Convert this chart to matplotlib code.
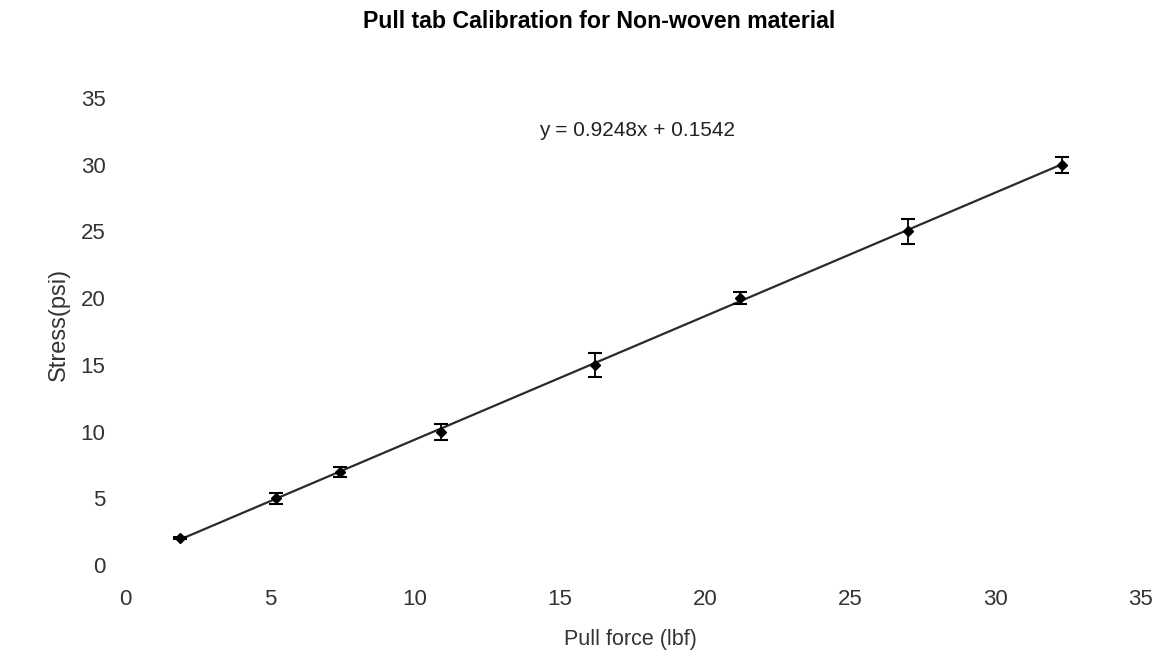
import numpy as np
import matplotlib
matplotlib.use("Agg")
import matplotlib.pyplot as plt

# Calibration data: pull force (lbf) vs. stress (psi)
pull_force = [1.9, 5.2, 7.4, 10.9, 16.2, 21.2, 27.0, 32.3]
stress = [2, 5, 7, 10, 15, 20, 25, 30]
stress_err = [0.08, 0.42, 0.38, 0.6, 0.88, 0.44, 0.96, 0.6]

# Linear trendline coefficients
slope = 0.9248
intercept = 0.1542

x_ticks = [0, 5, 10, 15, 20, 25, 30, 35]
y_ticks = [0, 5, 10, 15, 20, 25, 30, 35]

plt.rcParams['font.family'] = ['Liberation Sans', 'DejaVu Sans']

W, H = 1158, 653
fig = plt.figure(figsize=(W / 100, H / 100), dpi=100)
fig.patch.set_facecolor('white')

ax = fig.add_axes([125 / W, 1 - 565 / H, 1015 / W, 467 / H])
ax.set_xlim(0, 35)
ax.set_ylim(0, 35)

# trendline
xs = np.array([min(pull_force), max(pull_force)])
ax.plot(xs, slope * xs + intercept, color='#2a2a2a', lw=1.6, zorder=2)

# data points with error bars
ax.errorbar(pull_force, stress, yerr=stress_err, fmt='D', color='black',
            markersize=5, ecolor='black', elinewidth=1.3, capsize=5,
            capthick=1.5, zorder=3)

for s in ax.spines.values():
    s.set_visible(False)
ax.set_xticks(x_ticks)
ax.set_yticks(y_ticks)
ax.tick_params(axis='both', length=0, labelsize=16, colors='#333333')
ax.tick_params(axis='x', pad=17)
ax.tick_params(axis='y', pad=14)

fig.text(599 / W, 1 - 22 / H, 'Pull tab Calibration for Non-woven material',
         ha='center', va='center', fontsize=16.7, fontweight='bold', color='black')
fig.text(637 / W, 1 - 130 / H, 'y = 0.9248x + 0.1542',
         ha='center', va='center', fontsize=15, color='#222222')
fig.text(59 / W, 1 - 324 / H, 'Stress(psi)', rotation=90,
         ha='center', va='center', fontsize=17, color='#333333')
fig.text(630 / W, 1 - 639 / H, 'Pull force (lbf)',
         ha='center', va='center', fontsize=15.5, color='#333333')

fig.savefig('out.png', dpi=100, facecolor='white')
